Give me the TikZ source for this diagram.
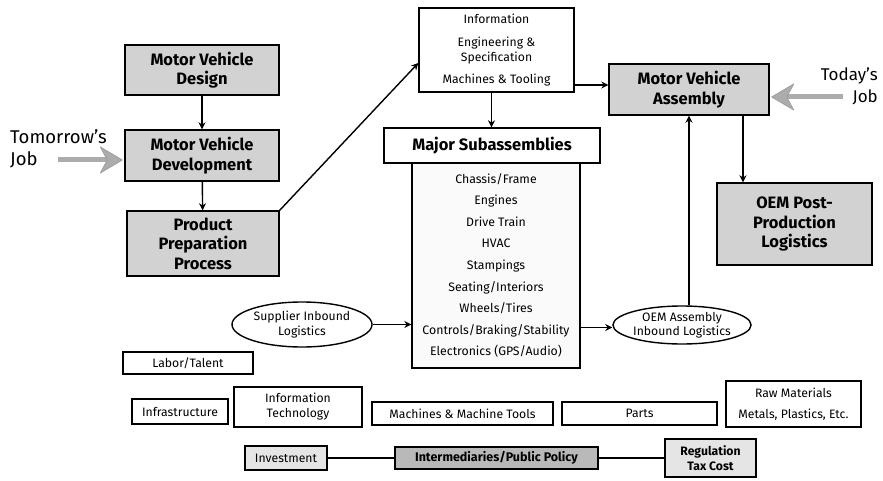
\documentclass[tikz,border=0pt]{standalone}
\usepackage{fontspec}
\setmainfont{Fira Sans}
\usetikzlibrary{arrows.meta,shapes.geometric,calc}
\begin{document}
\begin{tikzpicture}[x=1pt,y=-1pt,
  box/.style={draw, line width=1.4pt, inner sep=0pt, align=center, font=\fontsize{12.2}{15}\selectfont},
  gbox/.style={box, fill=gray!35, font=\fontsize{16.5}{19.5}\bfseries\selectfont},
  oval/.style={draw, line width=1.4pt, ellipse, inner sep=0pt, align=center, font=\fontsize{12.2}{14.5}\selectfont},
  conn/.style={line width=1.4pt, -{Stealth[length=7pt,width=7pt]}},
  plain/.style={line width=1.4pt},
  bigshaft/.style={line width=5pt, gray!65},
  bighead/.style={fill=gray!65, draw=gray!75, line width=0.8pt, line join=round},
  jobtext/.style={inner sep=0pt}
]
\useasboundingbox (0,0) rectangle (883,481);

% left column
\node[gbox, minimum width=154pt, minimum height=50pt] (design) at (202,70) {Motor Vehicle\\Design};
\node[gbox, minimum width=154pt, minimum height=51pt] (dev) at (202,155.5) {Motor Vehicle\\Development};
\node[gbox, minimum width=152pt, minimum height=65pt] (prep) at (203,243.5) {Product\\Preparation\\Process};

% information box
\node[box, minimum width=155pt, minimum height=84pt] (info) at (496.5,50)
  {Information\\[8pt]Engineering \&\\Specification\\[7pt]Machines \& Tooling};

% major subassemblies
\node[box, fill=white, minimum width=216pt, minimum height=35pt, font=\fontsize{16.5}{19}\bfseries\selectfont] (majhead) at (492,145.5) {Major Subassemblies};
\node[box, fill=gray!4, minimum width=168pt, minimum height=205pt, font=\fontsize{12.3}{21.6}\selectfont] (list) at (496,265.5)
  {Chassis/Frame\\Engines\\Drive Train\\HVAC\\Stampings\\Seating/Interiors\\Wheels/Tires\\Controls/Braking/Stability\\Electronics (GPS/Audio)};

% right column
\node[gbox, minimum width=160pt, minimum height=51pt] (mva) at (689,89.5) {Motor Vehicle\\Assembly};
\node[gbox, minimum width=155pt, minimum height=82pt] (oem) at (794.5,224) {OEM Post-\\Production\\Logistics};

% ellipses
\node[oval, minimum width=140pt, minimum height=45pt] (sup) at (302,324.5) {Supplier Inbound\\Logistics};
\node[oval, minimum width=122pt, minimum height=38pt] (oemin) at (682,325) {OEM Assembly\\Inbound Logistics};

% bottom boxes
\node[box, minimum width=130pt, minimum height=22pt] (labor) at (188,363) {Labor/Talent};
\node[box, minimum width=96pt, minimum height=25pt] (infra) at (180,411.5) {Infrastructure};
\node[box, minimum width=128pt, minimum height=40pt] (it) at (298,407) {Information\\Technology};
\node[box, minimum width=181pt, minimum height=23pt] (mach) at (462.5,413.5) {Machines \& Machine Tools};
\node[box, minimum width=155pt, minimum height=23pt] (parts) at (639.5,413.5) {Parts};
\node[box, minimum width=135pt, minimum height=46pt] (raw) at (793.5,404) {Raw Materials\\[6pt]Metals, Plastics, Etc.};
\node[box, fill=gray!20, minimum width=82pt, minimum height=24pt] (invest) at (286,458) {Investment};
\node[box, fill=gray!55, minimum width=203pt, minimum height=22pt, font=\fontsize{12.5}{14}\bfseries\selectfont] (inter) at (496.5,458) {Intermediaries/Public Policy};
\node[box, fill=gray!20, minimum width=91pt, minimum height=38pt, font=\fontsize{12.2}{14.5}\bfseries\selectfont] (reg) at (710.5,458) {Regulation\\Tax Cost};

% job labels
\node[jobtext, anchor=west, align=left, font=\fontsize{18.5}{22}\selectfont] (tom) at (10,149) {Tomorrow’s\\Job};
\coordinate (tomstart) at (58,160);
\node[jobtext, anchor=east, align=right, font=\fontsize{17}{22}\selectfont] (today) at (878,86) {Today’s\\Job};
\coordinate (todstart) at (843,97);

% connectors
\draw[conn] (design) -- (dev);
\draw[conn] (dev) -- (prep);
\draw[conn] (prep.north east) -- ([yshift=-13pt]info.west);
\draw[conn] ([xshift=-5pt]info.south) -- ([xshift=-5pt]info.south |- majhead.north);
\coordinate (infoR) at ([yshift=-35pt]info.east);
\draw[conn] (infoR) -- (mva.west |- infoR);
\coordinate (mvaD) at ([xshift=54pt]mva.south);
\draw[conn] (mvaD) -- (mvaD |- oem.north);
\draw[conn] (sup.east) -- (list.west |- sup.east);
\coordinate (listR) at ([yshift=-62pt]list.east);
\draw[conn] (listR) -- (oemin.west |- listR);
\draw[conn] (mva.south |- oemin.north) -- (mva.south);
\draw[plain] (invest) -- (inter);
\draw[plain] (inter) -- (reg);

% big grey arrows
\coordinate (tomtip) at ([xshift=-2pt,yshift=-4.5pt]dev.west);
\draw[bigshaft] (tomstart) -- ($(tomtip)+(-14,0)$);
\draw[bighead] (tomtip) -- ++(-22,-13) -- ++(7,13) -- ++(-7,13) -- cycle;
\coordinate (todtip) at ([xshift=2pt,yshift=-7.5pt]mva.east);
\draw[bigshaft] (todstart) -- ($(todtip)+(14,0)$);
\draw[bighead] (todtip) -- ++(22,-13) -- ++(-7,13) -- ++(7,13) -- cycle;
\end{tikzpicture}
\end{document}
